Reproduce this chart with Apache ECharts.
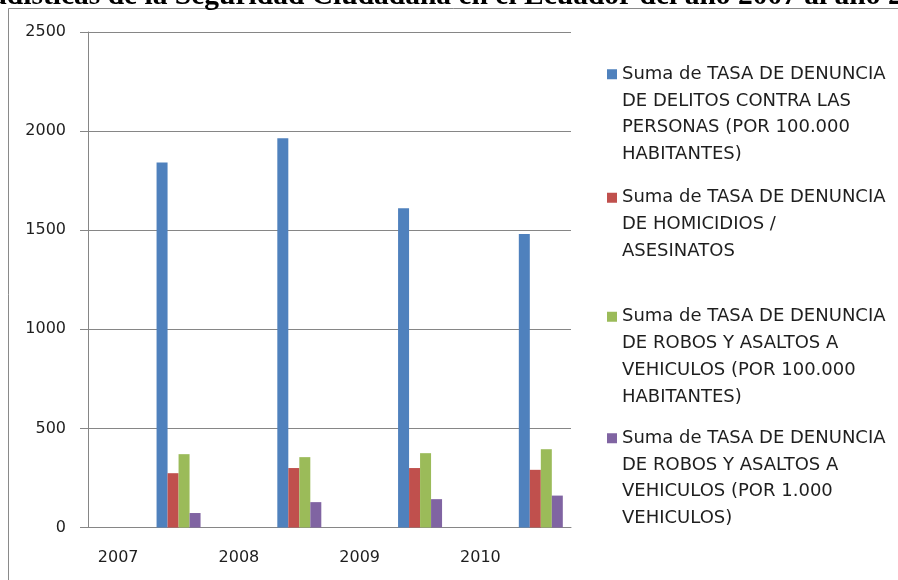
<!DOCTYPE html>
<html>
<head>
<meta charset="utf-8">
<script src="https://cdn.jsdelivr.net/npm/echarts@6/dist/echarts.min.js"></script>
<style>html,body{margin:0;padding:0;background:#fff}#c{width:898px;height:580px}</style>
</head>
<body>
<div id="c"></div>
<script>
// ---- data ----
const years = ['2007', '2008', '2009', '2010'];
const delitosPersonas = [1841, 1964, 1611, 1481];
const homicidios = [274, 300, 300, 291];
const robosVeh100k = [370, 355, 375, 395];
const robosVeh1000 = [73, 128, 143, 161];
const yTicks = [0, 500, 1000, 1500, 2000, 2500];

const seriesNames = [
  'Suma de TASA DE DENUNCIA\nDE DELITOS CONTRA LAS\nPERSONAS (POR 100.000\nHABITANTES)',
  'Suma de TASA DE DENUNCIA\nDE HOMICIDIOS /\nASESINATOS',
  'Suma de TASA DE DENUNCIA\nDE ROBOS Y ASALTOS A\nVEHICULOS (POR 100.000\nHABITANTES)',
  'Suma de TASA DE DENUNCIA\nDE ROBOS Y ASALTOS A\nVEHICULOS (POR 1.000\nVEHICULOS)'
];
const seriesValues = [delitosPersonas, homicidios, robosVeh100k, robosVeh1000];
const colors = ['#4F81BD', '#C0504D', '#9BBB59', '#8064A2'];

// Each year occupies two slots: the label slot and the bar slot (as in the source chart)
const slots = [];
years.forEach(y => { slots.push(y); slots.push(y + ' '); });
const toSlots = vals => { const out = []; vals.forEach(v => { out.push(null); out.push(v); }); return out; };

const LH = 26.7;
const legendTops = [61, 184.4, 303.4, 425];
const legends = seriesNames.map((name, i) => {
  const n = name.split('\n').length;
  const H = 10 + (n - 1) * LH;
  return {
    show: true,
    orient: 'vertical',
    left: 607,
    top: legendTops[i],
    padding: 0,
    itemWidth: 10,
    itemHeight: H,
    icon: 'path://M0,0H10V10H0Z M0,' + (H - 0.01) + 'h0.01v0.01h-0.01z',
    selectedMode: false,
    data: [name],
    textStyle: { fontFamily: 'DejaVu Sans', fontSize: 18, lineHeight: LH, color: '#1e1e1e' }
  };
});

const chart = echarts.init(document.getElementById('c'), null, { renderer: 'canvas' });
chart.setOption({
  backgroundColor: '#fff',
  animation: false,
  title: {
    text: 'Estadísticas de la Seguridad Ciudadana en el Ecuador del año 2007 al año 2010',
    left: 'center',
    top: -19,
    padding: 0,
    textStyle: { fontFamily: 'Liberation Serif', fontWeight: 'bold', fontSize: 29.5, color: '#000' }
  },
  graphic: [{
    type: 'rect', z: -1, silent: true,
    shape: { x: 8.5, y: 8.5, width: 1000, height: 1000 },
    style: { fill: '#fff', stroke: '#8a8a8a', lineWidth: 1 }
  }],
  legend: legends,
  grid: { left: 88, right: 327, top: 32, bottom: 52.5, containLabel: false },
  xAxis: {
    type: 'category',
    data: slots,
    boundaryGap: true,
    axisLine: { show: true, lineStyle: { color: '#868686', width: 1 } },
    axisTick: { show: false },
    axisLabel: {
      interval: 0,
      margin: 22,
      fontFamily: 'DejaVu Sans', fontSize: 16, color: '#1e1e1e',
      formatter: (v, i) => (i % 2 === 0 ? v : '')
    },
    splitLine: { show: false }
  },
  yAxis: {
    type: 'value',
    min: yTicks[0],
    max: yTicks[yTicks.length - 1],
    interval: yTicks[1] - yTicks[0],
    axisLine: { show: true, lineStyle: { color: '#868686', width: 1 } },
    axisTick: { show: true, length: 8, lineStyle: { color: '#868686' } },
    axisLabel: { margin: 22, fontFamily: 'DejaVu Sans', fontSize: 16, color: '#1e1e1e', formatter: v => String(v) },
    splitLine: { show: true, lineStyle: { color: '#868686', width: 1 } }
  },
  series: seriesValues.map((vals, i) => ({
    name: seriesNames[i],
    type: 'bar',
    data: toSlots(vals),
    barWidth: 11,
    barGap: '0%',
    itemStyle: { color: colors[i] }
  }))
});
</script>
</body>
</html>
